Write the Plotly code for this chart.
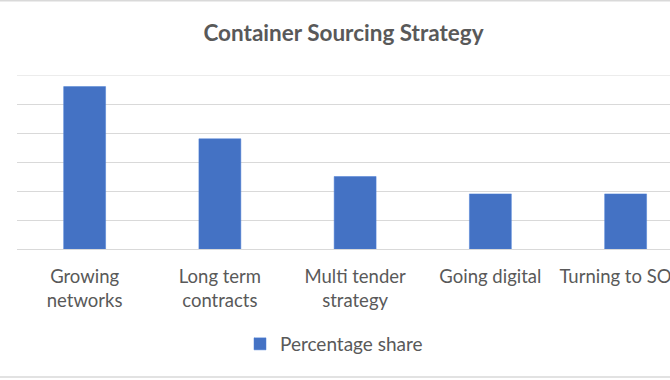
import plotly.graph_objects as go

categories = ["Growing<br>networks", "Long term<br>contracts", "Multi tender<br>strategy", "Going digital", "Turning to SOCs"]
values = [28, 19, 12.5, 9.5, 9.5]
series_name = "Percentage share"
y_max = 30
y_step = 5

W, H = 670, 380
ml, mr, mt, mb = 17, 0, 75, 131
pw = W - ml - mr
ph = H - mt - mb
cat_w = 135.25
xmax = -0.5 + pw / cat_w


def py2paper(py):
    return (mt + ph - py) / ph


fig = go.Figure()
fig.add_trace(go.Bar(x=list(range(len(categories))), y=values, name=series_name,
                     marker=dict(color="#4472c4", line=dict(color="#4a7fd6", width=0.5)),
                     showlegend=True))

font_family = "Lato, 'Open Sans', sans-serif"
fig.update_layout(
    width=W, height=H,
    margin=dict(l=ml, r=mr, t=mt, b=mb, autoexpand=False),
    paper_bgcolor="white", plot_bgcolor="white",
    title=dict(text="<b>Container Sourcing Strategy</b>", x=0.5, xanchor="center",
               y=1 - 33 / H, yanchor="middle", xref="paper",
               font=dict(family=font_family, size=22.5, color="#595959")),
    bargap=0.69,
    showlegend=True,
    legend=dict(orientation="h", x=(334 - ml) / pw, xanchor="center",
                y=py2paper(344), yanchor="middle",
                font=dict(family=font_family, size=19, color="#595959")),
    xaxis=dict(range=[-0.5, xmax], tickmode="array", tickvals=list(range(len(categories))),
               ticktext=categories, showgrid=False, zeroline=False,
               showline=True, linecolor="#d9d9d9", linewidth=1, ticks="",
               ticklabelstandoff=11,
               ticklabeloverflow="allow", automargin=False,
               tickfont=dict(family=font_family, size=18.5, color="#595959"),
               fixedrange=True),
    yaxis=dict(range=[0, y_max], dtick=y_step, showgrid=True, gridcolor="#d9d9d9", gridwidth=1,
               showticklabels=False, zeroline=False, ticks="", automargin=False,
               fixedrange=True),
    shapes=[
        dict(type="line", xref="paper", yref="y", x0=0, x1=1, y0=y_max, y1=y_max,
             line=dict(color="#d9d9d9", width=1), layer="below"),
        dict(type="line", xref="paper", yref="paper", x0=-ml / pw, x1=1,
             y0=py2paper(0.75), y1=py2paper(0.75), line=dict(color="#d9d9d9", width=1.5)),
        dict(type="line", xref="paper", yref="paper", x0=-ml / pw, x1=1,
             y0=py2paper(377), y1=py2paper(377), line=dict(color="#d9d9d9", width=1.5)),
    ],
)
fig.write_html("out.html", config={"displayModeBar": False},
               post_script="document.body.style.margin='0';document.body.style.overflow='hidden';")
